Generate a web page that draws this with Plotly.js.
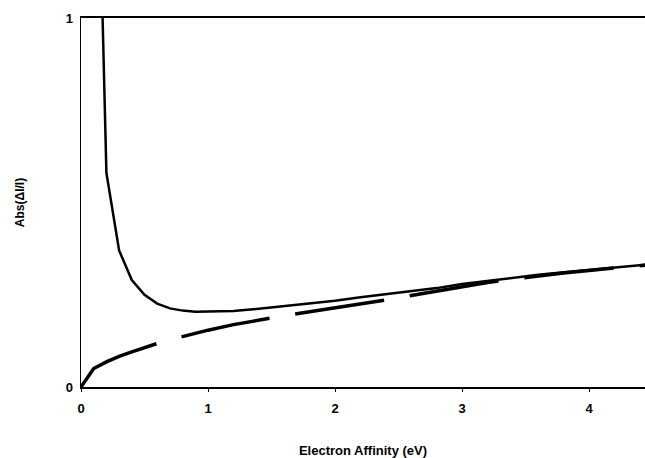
<!DOCTYPE html>
<html>
<head>
<meta charset="utf-8">
<script src="https://cdn.plot.ly/plotly-3.0.1.min.js"></script>
<style>html,body{margin:0;padding:0;background:#fff;}#chart{width:645px;height:458px;}</style>
</head>
<body>
<div id="chart"></div>
<script>
const solidX = [0.1, 0.2, 0.3, 0.4, 0.5, 0.6, 0.7, 0.8, 0.9, 1.0, 1.2, 1.4, 1.6, 1.8, 2.0, 2.2, 2.4, 2.6, 2.8, 3.0, 3.2, 3.4, 3.6, 3.8, 4.0, 4.2, 4.4, 4.5];
const solidY = [1.98, 0.58, 0.37, 0.29, 0.25, 0.226, 0.213, 0.207, 0.204, 0.204, 0.206, 0.212, 0.219, 0.226, 0.234, 0.243, 0.251, 0.259, 0.268, 0.279, 0.288, 0.296, 0.304, 0.311, 0.317, 0.324, 0.330, 0.333];
const dashX = [0, 0.1, 0.2, 0.3, 0.4, 0.5, 0.6, 0.7, 0.8, 0.9, 1.0, 1.2, 1.4, 1.6, 1.8, 2.0, 2.2, 2.4, 2.6, 2.8, 3.0, 3.2, 3.4, 3.6, 3.8, 4.0, 4.2, 4.4, 4.5];
const dashY = [0, 0.05, 0.068, 0.083, 0.095, 0.107, 0.118, 0.128, 0.137, 0.146, 0.154, 0.169, 0.182, 0.193, 0.204, 0.214, 0.225, 0.236, 0.248, 0.260, 0.272, 0.283, 0.292, 0.301, 0.309, 0.316, 0.322, 0.329, 0.332];
const xTicks = [0, 1, 2, 3, 4];
const yTicks = [0, 1];
const xTitle = "Electron Affinity (eV)";
const yTitle = "Abs(ΔI/I)";

const fam = "Liberation Sans, Arial, sans-serif";
const traces = [
  {x: solidX, y: solidY, mode: "lines", line: {color: "#000", width: 2.5}, hoverinfo: "none"},
  {x: dashX, y: dashY, mode: "lines", line: {color: "#000", width: 3.5, dash: "90px,26px"}, hoverinfo: "none"}
];
const layout = {
  width: 645, height: 458,
  margin: {l: 81, r: 0, t: 18, b: 71},
  showlegend: false,
  paper_bgcolor: "#fff", plot_bgcolor: "#fff",
  font: {family: fam, size: 12, color: "#000"},
  xaxis: {
    range: [0, 4.44], tickvals: xTicks, ticktext: xTicks.map(String),
    showgrid: false, zeroline: false, showline: true, linecolor: "#000", linewidth: 2,
    mirror: true, ticks: "outside", ticklen: 3, tickcolor: "#000", ticklabelstandoff: 5,
    tickfont: {family: fam, size: 13, color: "#000", weight: "bold"},
    title: {text: "<b>" + xTitle + "</b>", standoff: 31, font: {family: fam, size: 13, color: "#000"}}
  },
  yaxis: {
    range: [0, 1], tickvals: yTicks, ticktext: yTicks.map(String),
    showgrid: false, zeroline: false, showline: true, linecolor: "#000", linewidth: 1.5,
    ticks: "", ticklen: 0, ticklabelstandoff: 4,
    tickfont: {family: fam, size: 13, color: "#000", weight: "bold"},
    title: {text: "<b>" + yTitle + "</b>", standoff: 38, font: {family: fam, size: 12, color: "#000"}}
  }
};
Plotly.newPlot("chart", traces, layout, {staticPlot: true, displayModeBar: false});
</script>
</body>
</html>
